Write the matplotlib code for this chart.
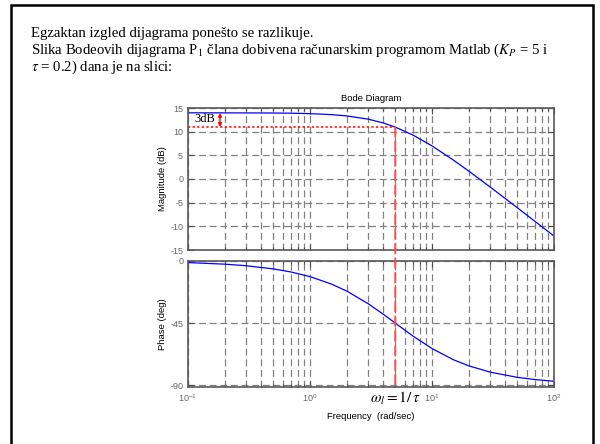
import matplotlib
matplotlib.use("Agg")
import matplotlib.pyplot as plt
from matplotlib.patches import ConnectionPatch, Rectangle
from matplotlib.ticker import LogLocator, NullFormatter

plt.rcParams["font.family"] = ["Liberation Sans", "DejaVu Sans"]
plt.rcParams["mathtext.fontset"] = "stix"
plt.rcParams["axes.unicode_minus"] = False

# Bode data (Kp = 5, tau = 0.2)
freq = [0.1, 0.2, 0.3, 0.5, 0.7, 1, 1.5, 2, 3, 4, 5, 7, 10, 15, 20, 30, 50, 70, 100]
mag_db = [13.98, 13.97, 13.96, 13.94, 13.90, 13.81, 13.60, 13.33, 12.64, 11.83,
          10.97, 9.27, 6.99, 3.98, 1.68, -1.70, -6.06, -8.97, -12.05]
phase_deg = [-1.15, -2.29, -3.43, -5.71, -7.97, -11.31, -16.70, -21.80, -30.96,
             -38.66, -45.0, -54.46, -63.43, -71.57, -75.96, -80.54, -84.29,
             -85.91, -87.14]

corner_freq = 5
level_3db = 10.98
mag_ticks = [-15, -10, -5, 0, 5, 10, 15]
phase_ticks = [-90, -45, 0]

intro_lines = [
    "Egzaktan izgled dijagrama ponešto se razlikuje.",
    "Slika Bodeovih dijagrama P$_1$ člana dobivena računarskim programom Matlab ($K_P$ = 5 i",
    r"$\tau$ = 0.2) dana je na slici:",
]

fig = plt.figure(figsize=(6, 4.44), dpi=100)

# slide frame
fig.add_artist(Rectangle((11 / 600, -0.05), 582 / 600, 1.05 - 5 / 444,
                         transform=fig.transFigure, fill=False,
                         edgecolor="black", linewidth=1.8))

for i, line in enumerate(intro_lines):
    fig.text(31 / 600, 1 - (33 + 17 * i) / 444, line, fontsize=10.6,
             family="Liberation Serif", va="center", ha="left")

ax1 = fig.add_axes([188 / 600, 1 - 250 / 444, 366 / 600, 142 / 444])
ax2 = fig.add_axes([188 / 600, 1 - 387 / 444, 366 / 600, 126 / 444])

grid_style = dict(color="0.5", linestyle=(0, (5.5, 3)), linewidth=0.9)
for ax in (ax1, ax2):
    ax.set_xscale("log")
    ax.set_xlim(0.1, 100)
    ax.xaxis.set_major_locator(LogLocator(base=10))
    ax.xaxis.set_minor_locator(LogLocator(base=10, subs=range(2, 10)))
    ax.xaxis.set_minor_formatter(NullFormatter())
    ax.grid(True, which="both", axis="x", **grid_style)
    ax.grid(True, which="major", axis="y", **grid_style)
    ax.tick_params(which="both", direction="in", top=True, right=True,
                   color="0.3", labelcolor="0.4", labelsize=6.5, width=0.8)
    ax.tick_params(which="major", length=4)
    ax.tick_params(which="minor", length=2.5)
    for sp in ax.spines.values():
        sp.set_color("0.35")
        sp.set_linewidth(1.2)

ax1.plot(freq, mag_db, color="blue", linewidth=0.9)
ax1.set_ylim(-15, 15)
ax1.set_yticks(mag_ticks)
ax1.tick_params(labelbottom=False)
ax1.set_ylabel("Magnitude (dB)", fontsize=6.8, labelpad=2)
ax1.set_title("Bode Diagram", fontsize=6.8, pad=5)

ax2.plot(freq, phase_deg, color="blue", linewidth=0.9)
ax2.set_ylim(-91.3, 0)
ax2.set_yticks(phase_ticks)
ax2.set_ylabel("Phase (deg)", fontsize=6.8, labelpad=2)
ax2.set_xlabel("Frequency  (rad/sec)", fontsize=6.8, labelpad=6)

# 3 dB annotation
ax1.plot([0.1, corner_freq], [level_3db, level_3db], color="red",
         linestyle=(0, (1.5, 1.5)), linewidth=1.1)
ax1.annotate("", xy=(0.183, mag_db[0]), xytext=(0.183, level_3db),
             arrowprops=dict(arrowstyle="<|-|>", color="red", lw=1.0,
                             mutation_scale=5, shrinkA=0, shrinkB=0))
ax1.text(0.112, 12.6, "3dB", family="Liberation Serif", fontsize=9,
         va="center", ha="left")

con = ConnectionPatch(xyA=(corner_freq, level_3db), coordsA=ax1.transData,
                      xyB=(corner_freq, -91.3), coordsB=ax2.transData,
                      color=(1, 0.3, 0.3), linestyle=(0, (5, 2.5)), linewidth=1.4)
fig.add_artist(con)

ax2.annotate(r"$\omega_l = 1/\,\tau$", xy=(corner_freq, 0),
             xycoords=("data", "axes fraction"), xytext=(0, -8),
             textcoords="offset points", ha="center", va="center", fontsize=11)

fig.savefig("out.png", dpi=100)
